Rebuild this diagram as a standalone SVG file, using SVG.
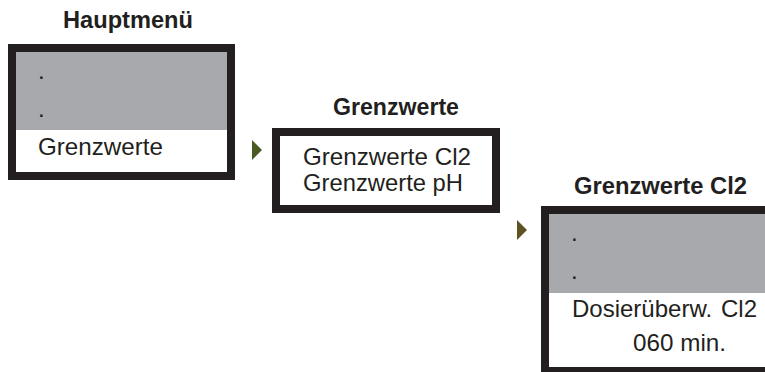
<svg xmlns="http://www.w3.org/2000/svg" width="765" height="372" viewBox="0 0 765 372">
<style>
.box{fill:#ffffff;stroke:#231f20;stroke-width:8}
.band{fill:#a7a9ac}
.t{font-family:"Liberation Sans",Arial,sans-serif;font-size:24px;fill:#231f20}
.h{font-family:"Liberation Sans",Arial,sans-serif;font-size:23.5px;font-weight:bold;fill:#231f20}
</style>
<rect width="765" height="372" fill="#ffffff"/>
<g id="connectors">
<polygon points="252,140 262,150 252,160" fill="#4b5a23"/>
<polygon points="517,220 527,230 517,240" fill="#5e5122"/>
</g>
<g id="hauptmenue">
<text class="h" x="63" y="28" textLength="130" lengthAdjust="spacingAndGlyphs">Hauptmenü</text>
<rect class="box" x="12" y="48" width="219" height="128"/>
<rect class="band" x="16" y="52" width="211" height="78"/>
<text class="t" x="38" y="79">.</text>
<text class="t" x="38" y="117">.</text>
<text class="t" x="38" y="155" textLength="125" lengthAdjust="spacingAndGlyphs">Grenzwerte</text>
</g>
<g id="grenzwerte">
<text class="h" x="333" y="115" textLength="126" lengthAdjust="spacingAndGlyphs">Grenzwerte</text>
<rect class="box" x="276" y="132" width="220" height="77"/>
<text class="t" x="303" y="165" textLength="168" lengthAdjust="spacingAndGlyphs">Grenzwerte Cl2</text>
<text class="t" x="303" y="191" textLength="160" lengthAdjust="spacingAndGlyphs">Grenzwerte pH</text>
</g>
<g id="grenzwerte-cl2">
<text class="h" x="574" y="194" textLength="173" lengthAdjust="spacingAndGlyphs">Grenzwerte Cl2</text>
<rect class="box" x="545" y="210" width="228" height="161"/>
<rect class="band" x="549" y="214" width="216" height="79"/>
<text class="t" x="571" y="241">.</text>
<text class="t" x="571" y="279">.</text>
<text class="t" x="572" y="317">Dosierüberw.<tspan x="721">Cl2</tspan></text>
<text class="t" x="633" y="351" textLength="93" lengthAdjust="spacingAndGlyphs">060 min.</text>
</g>
</svg>
